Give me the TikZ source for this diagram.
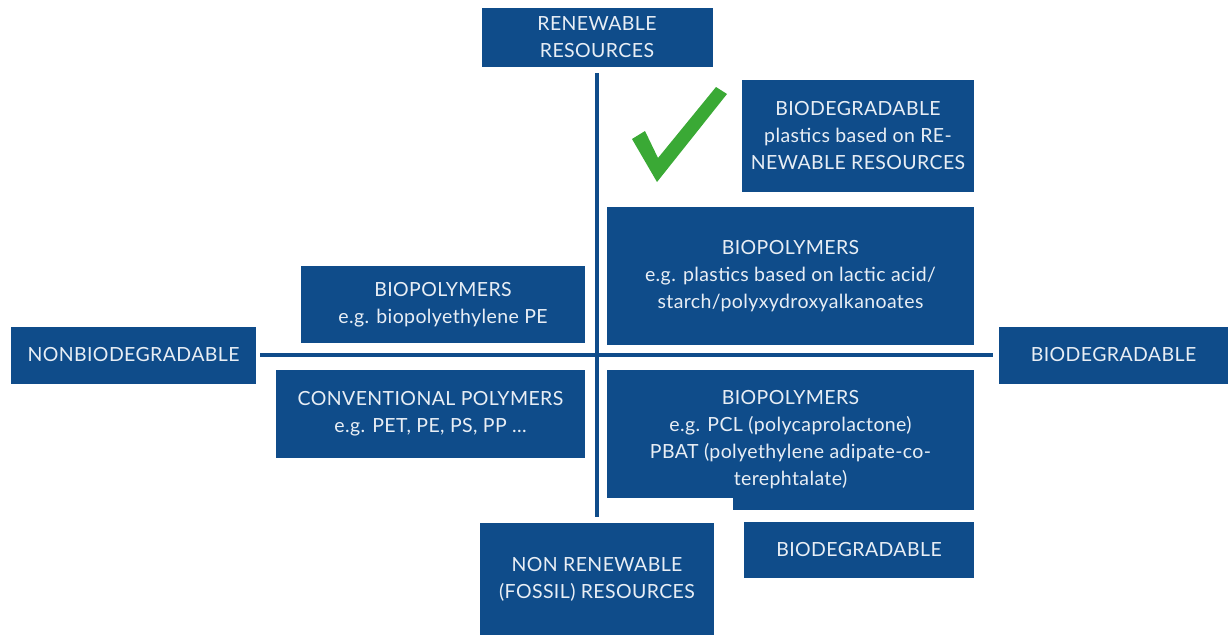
\documentclass[tikz,border=0pt]{standalone}
\usepackage{fontspec}
\setmainfont{Lato}[LetterSpace=2]
\definecolor{boxblue}{HTML}{0F4C8A}
\definecolor{boxtext}{HTML}{E8EEF5}
\definecolor{tickgreen}{HTML}{3AA935}
\begin{document}
\begin{tikzpicture}[x=1pt, y=-1pt,
    box/.style={fill=boxblue, text=boxtext, align=center, inner sep=0pt,
        font=\fontsize{19.5}{27}\selectfont},
    axisline/.style={draw=boxblue, line width=4pt}]
                \useasboundingbox (0, 0) rectangle (1231, 635);
                % Axis ends
                \node[box, minimum width=231pt, minimum height=59pt] (renew) at (597, 37.5) {RENEWABLE\\RESOURCES};
                \node[box, minimum width=234pt, minimum height=112pt] (nonrenew) at (597, 579) {NON RENEWABLE\\(FOSSIL) RESOURCES};
                \node[box, minimum width=245pt, minimum height=57pt] (nonbio) at (133.5, 355) {NONBIODEGRADABLE};
                \node[box, minimum width=229pt, minimum height=57pt] (biodegR) at (1113.5, 355) {BIODEGRADABLE};
                % Axes
                \draw[axisline, shorten <=6pt, shorten >=6pt] (renew.south) -- (nonrenew.north);
                \draw[axisline, shorten <=4pt, shorten >=6pt] (nonbio.east) -- (biodegR.west);

                % Quadrant boxes
                \node[box, minimum width=232pt, minimum height=112pt] (plastics) at (858, 136) {BIODEGRADABLE\\plastics based on RE-\\NEWABLE RESOURCES};
                \node[box, minimum width=367pt, minimum height=138pt] (lactic) at (790.5, 276) {BIOPOLYMERS\\e.g. plastics based on lactic acid/\\starch/polyxydroxyalkanoates};
                \node[box, minimum width=284pt, minimum height=77pt] (biope) at (443, 304.5) {BIOPOLYMERS\\e.g. biopolyethylene PE};
                \node[box, minimum width=309pt, minimum height=88pt] (conv) at (430.5, 414) {CONVENTIONAL POLYMERS\\e.g. PET, PE, PS, PP ...};
                \fill[boxblue] (733, 490) rectangle (974, 510);
                \node[box, minimum width=367pt, minimum height=128pt] (pcl) at (790.5, 434) {};
                \node[text=boxtext, align=center, font=\fontsize{19.5}{27}\selectfont] at (790.5, 440) {BIOPOLYMERS\\e.g. PCL (polycaprolactone)\\PBAT (polyethylene adipate-co-\\terephtalate)};
                \node[box, minimum width=230pt, minimum height=56pt] (biodegB) at (859, 550) {BIODEGRADABLE};

                % Tick
                \fill[tickgreen] (632, 139) -- (645, 131) -- (658, 158) -- (716, 87) -- (727, 94) -- (657, 182) -- cycle;
\end{tikzpicture}
\end{document}
